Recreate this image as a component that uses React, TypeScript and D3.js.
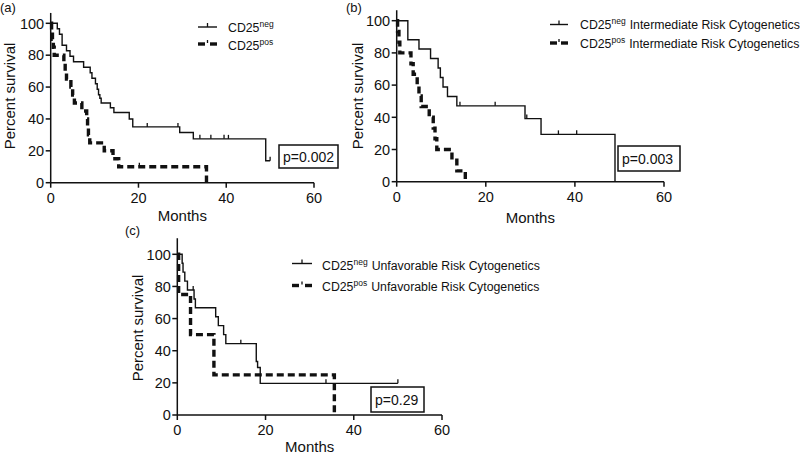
import React from 'react';
import * as d3 from 'd3';

// ---------- data ----------
const xTicks = [0, 20, 40, 60];
const yTicks = [0, 20, 40, 60, 80, 100];

// Panel (a)
const aNegTime = [0, 1.5, 2.0, 2.6, 3.6, 4.4, 5.2, 7.5, 9.0, 9.4, 10.2, 10.6, 10.9, 11.2, 11.5, 13.6, 14.4, 17.9, 18.7, 29.4, 32.5, 49.0, 50.0];
const aNegSurv = [100, 96.6, 93.1, 86.2, 82.8, 79.3, 75.9, 72.4, 69.0, 65.5, 62.1, 58.6, 55.2, 53.0, 50.0, 47.0, 44.0, 40.0, 35.0, 31.5, 27.5, 13.8, 13.8];
const aNegCensor = [22, 29.0, 34, 36.5, 39.5, 40.5, 50];
const aPosTime = [0, 0.2, 0.4, 0.6, 0.8, 3.0, 3.3, 3.6, 4.6, 5.0, 5.4, 7.1, 8.2, 8.4, 8.6, 8.9, 12.2, 14.2, 15.5, 35.5];
const aPosSurv = [100, 95, 90, 85, 80, 75, 70, 65, 60, 55, 50, 45, 40, 35, 30, 25, 20, 15, 10, 0];
const aPosCensor = [20.2];

// Panel (b)
const bNegTime = [0, 2.5, 5.0, 7.6, 9.3, 9.8, 10.4, 11.4, 13.5, 28.8, 32.4, 49.0];
const bNegSurv = [100, 88.2, 82.4, 76.5, 70.6, 64.7, 58.8, 52.9, 47.1, 39.2, 29.4, 0];
const bNegCensor = [14.2, 22.1, 29.2, 36.3, 40.4];
const bPosTime = [0, 0.2, 0.5, 0.7, 3.2, 3.7, 4.6, 5.0, 5.5, 7.3, 8.2, 8.6, 9.0, 12.4, 13.5, 15.4];
const bPosSurv = [100, 93.3, 86.7, 80, 73.3, 66.7, 60, 53.3, 46.7, 40, 33.3, 26.7, 20, 13.3, 6.7, 0];
const bPosCensor: number[] = [];

// Panel (c)
const cNegTime = [0, 1.1, 1.3, 1.7, 2.3, 3.8, 4.1, 8.7, 9.3, 10.5, 11.0, 17.9, 18.2, 18.8, 50.0];
const cNegSurv = [100, 94.4, 88.9, 83.3, 77.8, 72.2, 66.7, 61.1, 55.6, 50, 44.4, 33.3, 29.6, 19.7, 19.7];
const cNegCensor = [3.6, 14.4, 33.7, 50];
const cPosTime = [0, 0.3, 3.0, 8.3, 35.6];
const cPosSurv = [100, 75, 50, 25, 0];
const cPosCensor: number[] = [];

const panelLabels = ['(a)', '(b)', '(c)'];
const negLegend = ['', 'Intermediate Risk Cytogenetics', 'Unfavorable Risk Cytogenetics'];
const posLegend = ['', 'Intermediate Risk Cytogenetics', 'Unfavorable Risk Cytogenetics'];
const pValues = ['p=0.002', 'p=0.003', 'p=0.29'];
const xTitle = 'Months';
const yTitle = 'Percent survival';

// ---------- layout ----------
const FONT = "'Liberation Sans', Arial, Helvetica, sans-serif";
const INK = '#111';

type Layout = {
  x0: number; x60: number; y0: number; y100: number; yMax: number;
  label: [number, number];
  yTitle: [number, number];
  xTitleY: number;
  legend: { l1: number; l2: number; tx: number; rows: [number, number]; base: [number, number] };
  pbox: { x: number; y: number; w: number; h: number; tx: number; ty: number };
};

const layouts: Layout[] = [
  {
    x0: 50.7, x60: 314, y0: 182.7, y100: 23.3, yMax: 106.5,
    label: [0, 12], yTitle: [15, 96], xTitleY: 221,
    legend: { l1: 198, l2: 217, tx: 228, rows: [27, 44], base: [32, 50] },
    pbox: { x: 279, y: 145, w: 59, h: 23, tx: 283, ty: 162 },
  },
  {
    x0: 396.7, x60: 664, y0: 181.7, y100: 20.7, yMax: 106.5,
    label: [346, 12], yTitle: [363, 96], xTitleY: 223,
    legend: { l1: 550, l2: 568, tx: 580, rows: [24.5, 43], base: [29.3, 47.7] },
    pbox: { x: 618, y: 146, w: 62, h: 25, tx: 622, ty: 164 },
  },
  {
    x0: 177.3, x60: 442, y0: 415, y100: 254.3, yMax: 110,
    label: [125, 235], yTitle: [143, 328], xTitleY: 452,
    legend: { l1: 292, l2: 312, tx: 322, rows: [263.5, 285.5], base: [269.5, 291] },
    pbox: { x: 371, y: 387, w: 53, h: 25, tx: 375, ty: 405 },
  },
];

const negData = [
  { t: aNegTime, s: aNegSurv, c: aNegCensor },
  { t: bNegTime, s: bNegSurv, c: bNegCensor },
  { t: cNegTime, s: cNegSurv, c: cNegCensor },
];
const posData = [
  { t: aPosTime, s: aPosSurv, c: aPosCensor },
  { t: bPosTime, s: bPosSurv, c: bPosCensor },
  { t: cPosTime, s: cPosSurv, c: cPosCensor },
];

function survAt(t: number[], s: number[], v: number) {
  let r = s[0];
  for (let i = 0; i < t.length; i++) if (t[i] <= v) r = s[i];
  return r;
}

const DASH = '7,4';
const DASH_W = 3.4;
const SOLID_W = 1.4;

function Panel({ i }: { i: number }) {
  const L = layouts[i];
  const x = d3.scaleLinear().domain([0, 60]).range([L.x0, L.x60]);
  const y = d3.scaleLinear().domain([0, 100]).range([L.y0, L.y100]);
  const line = d3
    .line<[number, number]>()
    .x((d) => x(d[0]))
    .y((d) => y(d[1]))
    .curve(d3.curveStepAfter);
  const neg = negData[i];
  const pos = posData[i];
  const negPts = neg.t.map((t, k) => [t, neg.s[k]] as [number, number]);
  const posPts = pos.t.map((t, k) => [t, pos.s[k]] as [number, number]);
  const tickLen = 5;

  const lg = L.legend;
  return (
    <g>
      <text x={L.label[0]} y={L.label[1]} fontSize={13} fill={INK} fontFamily={FONT}>
        {panelLabels[i]}
      </text>
      <line x1={L.x0} x2={L.x0} y1={y(0)} y2={y(L.yMax)} stroke={INK} strokeWidth={1.5} />
      <line x1={L.x0} x2={L.x60} y1={L.y0} y2={L.y0} stroke={INK} strokeWidth={1.5} />
      {yTicks.map((v) => (
        <g key={'y' + v}>
          <line x1={L.x0 - tickLen} x2={L.x0} y1={y(v)} y2={y(v)} stroke={INK} strokeWidth={1.5} />
          <text x={L.x0 - 6.5} y={y(v) + 5.2} fontSize={14.5} textAnchor="end" fill={INK} fontFamily={FONT}>
            {v}
          </text>
        </g>
      ))}
      {xTicks.map((v) => (
        <g key={'x' + v}>
          <line x1={x(v)} x2={x(v)} y1={L.y0} y2={L.y0 + tickLen} stroke={INK} strokeWidth={1.5} />
          <text x={x(v)} y={L.y0 + 20} fontSize={14.5} textAnchor="middle" fill={INK} fontFamily={FONT}>
            {v}
          </text>
        </g>
      ))}
      <text x={(L.x0 + L.x60) / 2} y={L.xTitleY} fontSize={15} textAnchor="middle" fill={INK} fontFamily={FONT}>
        {xTitle}
      </text>
      <text
        transform={`translate(${L.yTitle[0]},${L.yTitle[1]}) rotate(-90)`}
        fontSize={15}
        textAnchor="middle"
        fill={INK}
        fontFamily={FONT}
      >
        {yTitle}
      </text>
      <path d={line(posPts) || ''} fill="none" stroke={INK} strokeWidth={DASH_W} strokeDasharray={DASH} />
      <path d={line(negPts) || ''} fill="none" stroke={INK} strokeWidth={SOLID_W} />
      {neg.c.map((c, k) => (
        <line
          key={'nc' + k}
          x1={x(c)}
          x2={x(c)}
          y1={y(survAt(neg.t, neg.s, c))}
          y2={y(survAt(neg.t, neg.s, c)) - 4}
          stroke={INK}
          strokeWidth={1.3}
        />
      ))}
      {pos.c.map((c, k) => (
        <line
          key={'pc' + k}
          x1={x(c)}
          x2={x(c)}
          y1={y(survAt(pos.t, pos.s, c))}
          y2={y(survAt(pos.t, pos.s, c)) - 4}
          stroke={INK}
          strokeWidth={1.3}
        />
      ))}
      <line x1={lg.l1} x2={lg.l2} y1={lg.rows[0]} y2={lg.rows[0]} stroke={INK} strokeWidth={SOLID_W} />
      <line
        x1={(lg.l1 + lg.l2) / 2}
        x2={(lg.l1 + lg.l2) / 2}
        y1={lg.rows[0]}
        y2={lg.rows[0] - 4}
        stroke={INK}
        strokeWidth={1.3}
      />
      <line x1={lg.l1} x2={lg.l1 + 7} y1={lg.rows[1]} y2={lg.rows[1]} stroke={INK} strokeWidth={DASH_W} />
      <line x1={lg.l2 - 7} x2={lg.l2} y1={lg.rows[1]} y2={lg.rows[1]} stroke={INK} strokeWidth={DASH_W} />
      <line
        x1={(lg.l1 + lg.l2) / 2}
        x2={(lg.l1 + lg.l2) / 2}
        y1={lg.rows[1] - 1}
        y2={lg.rows[1] - 4}
        stroke={INK}
        strokeWidth={1.3}
      />
      <text x={lg.tx} y={lg.base[0]} fontSize={12.3} fill={INK} fontFamily={FONT}>
        <tspan>CD25</tspan>
        <tspan dy={-5} fontSize={8.5}>neg</tspan>
        <tspan dy={5} dx={4}>{negLegend[i]}</tspan>
      </text>
      <text x={lg.tx} y={lg.base[1]} fontSize={12.3} fill={INK} fontFamily={FONT}>
        <tspan>CD25</tspan>
        <tspan dy={-5} fontSize={8.5}>pos</tspan>
        <tspan dy={5} dx={4}>{posLegend[i]}</tspan>
      </text>
      <rect x={L.pbox.x} y={L.pbox.y} width={L.pbox.w} height={L.pbox.h} fill="white" stroke={INK} strokeWidth={1.5} />
      <text x={L.pbox.tx} y={L.pbox.ty} fontSize={14} fill={INK} fontFamily={FONT}>
        {pValues[i]}
      </text>
    </g>
  );
}

export default function App() {
  return (
    <svg
      width={800}
      height={456}
      viewBox="0 0 800 456"
      style={{ position: 'absolute', left: 0, top: 0, background: 'white' }}
    >
      <rect x={0} y={0} width={800} height={456} fill="white" />
      {[0, 1, 2].map((i) => (
        <Panel key={i} i={i} />
      ))}
    </svg>
  );
}
